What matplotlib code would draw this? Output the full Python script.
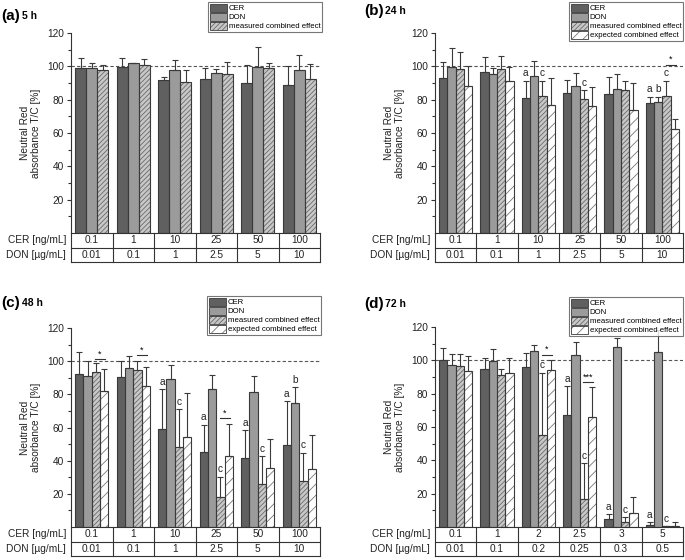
import matplotlib
matplotlib.use('Agg')
import matplotlib.pyplot as plt
from matplotlib.patches import Patch
from matplotlib.transforms import blended_transform_factory
import numpy as np

plt.rcParams['font.family'] = ['Liberation Sans', 'DejaVu Sans']
plt.rcParams['hatch.linewidth'] = 0.6

# ---------------- data ----------------
series_names = ['CER', 'DON', 'measured combined effect', 'expected combined effect']

cer_conc_abc = ['0.1', '1', '10', '25', '50', '100']
don_conc_abc = ['0.01', '0.1', '1', '2.5', '5', '10']
cer_conc_d = ['0.1', '1', '2', '2.5', '3', '5']
don_conc_d = ['0.01', '0.1', '0.2', '0.25', '0.3', '0.5']

# panel (a) 5 h
a_cer = [98.8, 99.6, 91.8, 92.2, 89.8, 88.8]
a_cer_top = [105.2, 105.0, 93.4, 99.2, 100.6, 100.0]
a_don = [98.8, 101.8, 97.6, 95.8, 99.6, 97.8]
a_don_top = [101.8, 102.0, 104.0, 98.2, 111.4, 106.6]
a_meas = [97.6, 100.6, 90.4, 95.2, 99.2, 92.4]
a_meas_top = [101.0, 104.6, 97.8, 102.6, 102.2, 101.4]
a_letters = []
a_sig = []

# panel (b) 24 h
b_cer = [93.2, 96.4, 81.2, 83.8, 83.2, 77.8]
b_cer_top = [102.4, 105.8, 91.4, 91.8, 93.8, 81.6]
b_don = [99.4, 95.4, 94.0, 88.4, 86.2, 78.8]
b_don_top = [111.0, 99.0, 103.4, 96.0, 95.2, 81.6]
b_meas = [98.2, 98.6, 82.2, 80.6, 85.6, 82.4]
b_meas_top = [108.6, 106.2, 91.4, 85.8, 91.4, 91.4]
b_exp = [88.4, 91.4, 77.0, 76.0, 74.0, 62.2]
b_exp_top = [100.2, 99.6, 92.8, 87.8, 90.0, 68.2]
b_letters = [(2, 0, 'a'), (2, 2, 'c'), (3, 2, 'c'), (5, 0, 'a'), (5, 1, 'b'), (5, 2, 'c')]
b_sig = [(5, 101.0, '*')]

# panel (c) 48 h
c_cer = [92.2, 90.4, 59.0, 45.4, 41.6, 49.2]
c_cer_top = [105.4, 100.4, 83.1, 61.6, 58.4, 75.9]
c_don = [90.8, 95.6, 89.0, 83.5, 81.3, 74.5]
c_don_top = [99.8, 103.4, 97.4, 91.4, 90.8, 84.3]
c_meas = [93.2, 94.4, 48.0, 17.9, 26.0, 27.7]
c_meas_top = [98.6, 100.4, 70.9, 30.3, 42.6, 44.8]
c_exp = [82.3, 85.3, 54.2, 42.8, 35.5, 34.7]
c_exp_top = [95.0, 96.2, 81.1, 62.4, 53.2, 55.2]
c_letters = [(2, 0, 'a'), (2, 2, 'c'), (3, 0, 'a'), (3, 2, 'c'), (4, 0, 'a'), (4, 2, 'c'),
             (5, 0, 'a'), (5, 1, 'b'), (5, 2, 'c')]
c_sig = [(0, 101.2, '*'), (1, 103.6, '*'), (3, 65.7, '*')]

# panel (d) 72 h
d_cer = [100.2, 94.8, 96.0, 67.0, 4.6, 1.0]
d_cer_top = [107.2, 101.6, 104.6, 84.4, 7.8, 3.0]
d_don = [97.2, 99.4, 105.6, 103.0, 108.2, 104.8]
d_don_top = [103.6, 106.6, 109.0, 110.8, 113.2, 118.0]
d_meas = [96.4, 91.2, 55.2, 16.6, 2.8, 0.6]
d_meas_top = [103.6, 94.6, 92.4, 38.2, 5.8, 0.6]
d_exp = [93.6, 92.4, 94.2, 66.2, 8.4, 0.8]
d_exp_top = [102.6, 101.6, 100.0, 84.2, 18.0, 3.2]
d_letters = [(2, 2, 'c'), (3, 0, 'a'), (3, 2, 'c'), (4, 0, 'a'), (4, 2, 'c'), (5, 0, 'a'), (5, 2, 'c')]
d_sig = [(2, 103.4, '*'), (3, 87.0, '***')]

# ---------------- style ----------------
FACE = ['#606060', '#9b9b9b', '#c8c8c8', '#ffffff']
HATCH = [None, None, '///////', '///']
HATCHC = [None, None, '#6a6a6a', '#777777']
EDGE = '#3a3a3a'
FS = 7.3

W, H = 685, 560
fig = plt.figure(figsize=(W / 100, H / 100), dpi=100)


def px_rect(left, right, top, bottom):
    return [left / W, 1 - bottom / H, (right - left) / W, (bottom - top) / H]


def draw_panel(rect, tag, time, vals, tops, letters, sigs, cer_lab, don_lab, leg_anchor):
    ax = fig.add_axes(rect)
    n = len(vals)
    w = 0.8 / n
    idx = np.arange(len(cer_lab))
    xs = []
    for k in range(n):
        x = idx + (k - (n - 1) / 2) * w
        xs.append(x)
        v = np.array(vals[k])
        t = np.array(tops[k])
        if HATCH[k]:
            ax.bar(x, v, w, color=FACE[k], edgecolor=HATCHC[k], hatch=HATCH[k], lw=0, zorder=2)
        else:
            ax.bar(x, v, w, color=FACE[k], lw=0, zorder=2)
        ax.bar(x, v, w, fill=False, edgecolor=EDGE, lw=0.8, zorder=3)
        ax.errorbar(x, v, yerr=[np.zeros_like(v), t - v], fmt='none', ecolor=EDGE,
                    elinewidth=0.8, capsize=2.2, capthick=0.8, zorder=4)
    ax.axhline(100, color='#555555', lw=0.8, ls=(0, (3, 2)), zorder=1)

    for g, k, letter in letters:
        ax.text(xs[k][g], tops[k][g] + 1.5, letter, ha='center', va='bottom', fontsize=FS,
                color='#222222', zorder=5)
    for g, y, s in sigs:
        x0, x1 = xs[2][g], xs[3][g]
        ax.plot([x0 - 0.02, x1 + 0.02], [y, y], color='#333333', lw=0.8, zorder=5)
        ax.text((x0 + x1) / 2, y + 0.3, s, ha='center', va='bottom', fontsize=6.5, zorder=5)

    ax.set_xlim(-0.5, len(cer_lab) - 0.5)
    ax.set_ylim(0, 120)
    for s in ['top', 'right', 'bottom']:
        ax.spines[s].set_visible(False)
    ax.spines['left'].set_linewidth(0.8)
    ax.spines['left'].set_color('#333333')
    ax.set_xticks([])
    ax.set_yticks([20, 40, 60, 80, 100, 120])
    ax.set_yticks([10, 30, 50, 70, 90, 110], minor=True)
    ax.tick_params(axis='y', which='major', direction='out', length=3, width=0.8,
                   labelsize=FS, pad=2, colors='#333333', labelcolor='#222222')
    ax.tick_params(axis='y', which='minor', direction='out', length=2, width=0.8, colors='#333333')
    ax.text(-0.163, 0.5, 'Neutral Red\nabsorbance T/C [%]', rotation=90, ha='center',
            va='center', fontsize=FS, transform=ax.transAxes, linespacing=1.1,
            multialignment='center', color='#222222')

    # table below axis
    trans = blended_transform_factory(ax.transData, ax.transAxes)
    rh = 14.5 / (rect[3] * H)
    ng = len(cer_lab)
    for yy in [0, -rh, -2 * rh]:
        ax.plot([-0.5, ng - 0.5], [yy, yy], color='#333333', lw=0.8, transform=trans,
                clip_on=False, zorder=6)
    for xx in np.arange(-0.5, ng, 1.0):
        ax.plot([xx, xx], [0, -2 * rh], color='#333333', lw=0.8, transform=trans,
                clip_on=False, zorder=6)
    for i in range(ng):
        ax.text(i, -rh / 2, cer_lab[i], ha='center', va='center', fontsize=FS,
                transform=trans, color='#222222')
        ax.text(i, -1.5 * rh, don_lab[i], ha='center', va='center', fontsize=FS,
                transform=trans, color='#222222')
    ax.text(-0.62, -rh / 2, 'CER [ng/mL]', ha='right', va='center', fontsize=FS,
            transform=trans, color='#222222')
    ax.text(-0.62, -1.5 * rh, 'DON [µg/mL]', ha='right', va='center', fontsize=FS,
            transform=trans, color='#222222')

    # legend
    handles = []
    for k in range(n):
        if HATCH[k]:
            handles.append((Patch(facecolor=FACE[k], edgecolor=HATCHC[k], hatch=HATCH[k], lw=0),
                            Patch(fill=False, edgecolor=EDGE, lw=0.6)))
        else:
            handles.append(Patch(facecolor=FACE[k], edgecolor=EDGE, lw=0.6))
    leg = ax.legend(handles, series_names[:n], loc='upper right', bbox_to_anchor=leg_anchor,
                    bbox_transform=fig.transFigure, fontsize=5.6, frameon=True, fancybox=False,
                    edgecolor='#555555', borderpad=0.2, labelspacing=0.05, handlelength=2.2,
                    handleheight=1.2, handletextpad=0.25, borderaxespad=0)
    leg.get_frame().set_linewidth(0.8)

    # panel label
    lx, ly = tag[1], tag[2]
    fig.text(lx / W, 1 - ly / H, tag[0], fontsize=11, fontweight='bold', va='center', ha='left')
    fig.text((lx + 21) / W, 1 - ly / H, time, fontsize=7.5, fontweight='bold', va='center', ha='left')
    return ax


draw_panel(px_rect(71, 320, 33, 233), ('(a)', 1, 16), '5 h',
           [a_cer, a_don, a_meas], [a_cer_top, a_don_top, a_meas_top],
           a_letters, a_sig, cer_conc_abc, don_conc_abc, (322 / W, 1 - 2 / H))
draw_panel(px_rect(435, 683, 33, 233), ('(b)', 364, 11), '24 h',
           [b_cer, b_don, b_meas, b_exp], [b_cer_top, b_don_top, b_meas_top, b_exp_top],
           b_letters, b_sig, cer_conc_abc, don_conc_abc, (683 / W, 1 - 2 / H))
draw_panel(px_rect(71, 320, 328, 527), ('(c)', 1, 303), '48 h',
           [c_cer, c_don, c_meas, c_exp], [c_cer_top, c_don_top, c_meas_top, c_exp_top],
           c_letters, c_sig, cer_conc_abc, don_conc_abc, (321 / W, 1 - 296 / H))
draw_panel(px_rect(435, 683, 327, 527), ('(d)', 364, 304), '72 h',
           [d_cer, d_don, d_meas, d_exp], [d_cer_top, d_don_top, d_meas_top, d_exp_top],
           d_letters, d_sig, cer_conc_d, don_conc_d, (683 / W, 1 - 297 / H))

fig.savefig('out.png', dpi=100)
